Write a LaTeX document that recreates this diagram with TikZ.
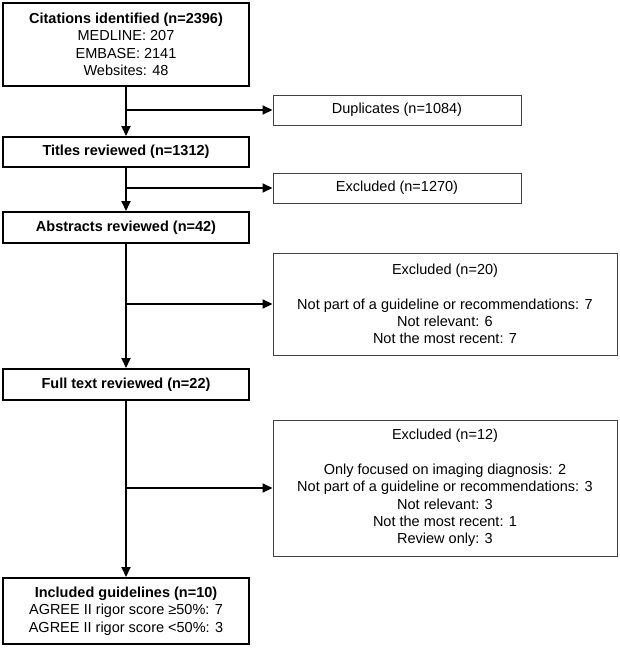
\documentclass[tikz,border=0pt]{standalone}
\usepackage{fontspec}
\setmainfont{Liberation Sans}
\usetikzlibrary{arrows.meta}
\begin{document}
\begin{tikzpicture}[x=1pt,y=1pt,
  mainbox/.style={draw=black, line width=2pt, inner sep=0pt, align=center,
    font=\fontsize{14.5}{17.4}\selectfont},
  sidebox/.style={draw=black!75, line width=1pt, inner sep=0pt, align=center,
    font=\fontsize{14.5}{17.4}\selectfont},
  arr/.style={line width=2pt, -{Triangle[length=10pt,width=9pt]}}]
\useasboundingbox (0,0) rectangle (620,-648);
\node[mainbox, minimum width=246pt, minimum height=83pt] (cit) at (126,-44.5)
  {\textbf{Citations identified (n=2396)}\\MEDLINE: 207\\EMBASE: 2141\\Websites: 48};
\node[mainbox, minimum width=246pt, minimum height=30pt] (tit) at (126,-152)
  {\textbf{Titles reviewed (n=1312)}};
\node[mainbox, minimum width=246pt, minimum height=31pt] (abs) at (126,-227.5)
  {\textbf{Abstracts reviewed (n=42)}};
\node[mainbox, minimum width=246pt, minimum height=31pt] (full) at (126,-384.5)
  {\textbf{Full text reviewed (n=22)}};
\node[mainbox, minimum width=246pt, minimum height=66pt] (inc) at (126,-611)
  {\textbf{Included guidelines (n=10)}\\AGREE II rigor score ≥50\%: 7\\AGREE II rigor score <50\%: 3};
\node[sidebox, minimum width=248pt, minimum height=30pt] (dup) at (397,-110)
  {Duplicates (n=1084)};
\node[sidebox, minimum width=248pt, minimum height=30pt] (ex1) at (397,-188)
  {Excluded (n=1270)};
\node[sidebox, minimum width=344pt, minimum height=102pt] (ex2) at (445,-304)
  {Excluded (n=20)\\[17.4pt]Not part of a guideline or recommendations: 7\\Not relevant: 6\\Not the most recent: 7};
\node[sidebox, minimum width=344pt, minimum height=136pt] (ex3) at (445,-488)
  {Excluded (n=12)\\[17.4pt]Only focused on imaging diagnosis: 2\\Not part of a guideline or recommendations: 3\\Not relevant: 3\\Not the most recent: 1\\Review only: 3};
\draw[arr] (cit.south) -- (tit.north);
\draw[arr] (tit.south) -- (abs.north);
\draw[arr] (abs.south) -- (full.north);
\draw[arr] (full.south) -- (inc.north);
\draw[arr] (cit.south |- dup.west) -- (dup.west);
\draw[arr] (tit.south |- ex1.west) -- (ex1.west);
\draw[arr] (abs.south |- ex2.west) -- (ex2.west);
\draw[arr] (full.south |- ex3.west) -- (ex3.west);
\end{tikzpicture}
\end{document}
